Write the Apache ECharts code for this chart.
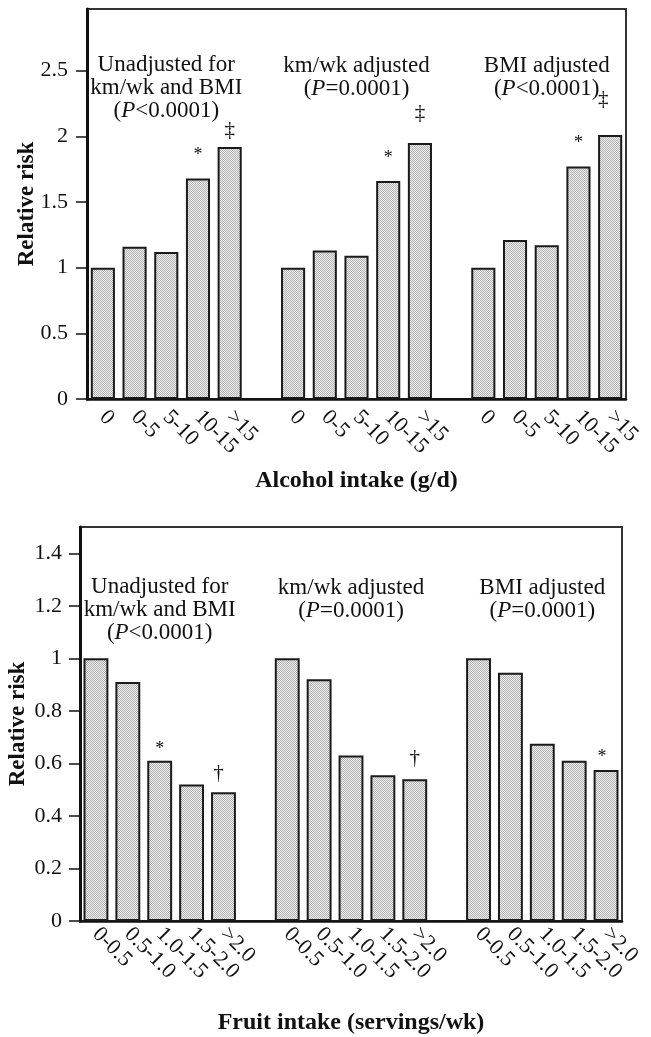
<!DOCTYPE html>
<html><head><meta charset="utf-8">
<script src="https://cdn.jsdelivr.net/npm/echarts@6/dist/echarts.min.js"></script>
<style>html,body{margin:0;padding:0;background:#fff}#c{width:651px;height:1037px}</style>
</head><body><div id="c"></div>
<script>
// ---- data ----
const alcoholCats = ['0', '0-5', '5-10', '10-15', '>15'];
const fruitCats = ['0-0.5', '0.5-1.0', '1.0-1.5', '1.5-2.0', '>2.0'];
const groupNames = ['Unadjusted for\nkm/wk and BMI', 'km/wk adjusted', 'BMI adjusted'];
const alcoholP = ['<0.0001', '=0.0001', '<0.0001'];
const fruitP = ['<0.0001', '=0.0001', '=0.0001'];
const alcoholUnadjusted = [1.00, 1.16, 1.12, 1.68, 1.92];
const alcoholKmAdjusted = [1.00, 1.13, 1.09, 1.66, 1.95];
const alcoholBmiAdjusted = [1.00, 1.21, 1.17, 1.77, 2.01];
const alcoholMarks = [['', '', '', '*', '‡'], ['', '', '', '*', '‡'], ['', '', '', '*', '‡']];
const fruitUnadjusted = [1.00, 0.91, 0.61, 0.52, 0.49];
const fruitKmAdjusted = [1.00, 0.92, 0.63, 0.555, 0.54];
const fruitBmiAdjusted = [1.00, 0.945, 0.675, 0.61, 0.575];
const fruitMarks = [['', '', '*', '', '†'], ['', '', '', '', '†'], ['', '', '', '', '*']];
const alcoholTicks = [0, 0.5, 1, 1.5, 2, 2.5];
const fruitTicks = [0, 0.2, 0.4, 0.6, 0.8, 1, 1.2, 1.4];
const alcoholTitle = 'Alcohol intake (g/d)';
const fruitTitle = 'Fruit intake (servings/wk)';
const yTitle = 'Relative risk';

// ---- styling / placement (not data) ----
const FONT = '"Liberation Serif", "Times New Roman", serif';
const INK = '#111';
const alcoholMarkShift = [[0,0,0,[0,-14],[0,-6]], [0,0,0,[0,-14],[0,-19]], [0,0,0,[0,-14],[-7,-25]]];
const fruitMarkShift = [[0,0,[0,-3],0,[-5,-8]], [0,0,0,0,[0,-10]], [0,0,0,0,[-4,-4]]];
const alcoholTitleLevel = [2.37, 2.45, 2.45];
const fruitTitleLevel = [1.185, 1.226, 1.226];

// stipple fill
const pc = document.createElement('canvas'); pc.width = 2; pc.height = 2;
const g = pc.getContext('2d');
g.fillStyle = '#eeeeee'; g.fillRect(0, 0, 2, 2);
g.fillStyle = '#b2b2b2'; g.fillRect(0, 0, 1, 1); g.fillRect(1, 1, 1, 1);
const stipple = { image: pc, repeat: 'repeat' };

function axisCats(cats) { return [...cats, '', ...cats, '', ...cats]; }
function buildBars(groups, marks, shifts) {
  const out = [];
  groups.forEach((vals, gi) => {
    if (gi > 0) out.push('-');
    vals.forEach((v, i) => {
      const m = marks[gi][i];
      const item = { value: v };
      if (m) item.label = { show: true, formatter: m, offset: shifts[gi][i], fontSize: m === '*' ? 18 : 21 };
      out.push(item);
    });
  });
  return out;
}
function buildTitles(levels, pvals) {
  return levels.map((lv, gi) => ({ value: [gi * 6 + 2, lv], name: groupNames[gi] + '\n({i|P}' + pvals[gi] + ')' }));
}

const chart = echarts.init(document.getElementById('c'), null, { renderer: 'canvas' });
const mkY = (gi, max, ticks, margin, gap) => ({
  type: 'value', gridIndex: gi, min: 0, max: max, interval: ticks[1],
  name: yTitle, nameLocation: 'middle', nameGap: gap, nameMoveOverlap: false,
  nameTextStyle: { fontSize: 23, fontWeight: 'bold', fontFamily: FONT, color: INK },
  axisLine: { show: true, lineStyle: { color: INK, width: 3 } },
  axisTick: { show: true, length: 11, lineStyle: { color: INK, width: 1.5 }, customValues: ticks },
  axisLabel: { fontSize: 22, fontFamily: FONT, color: INK, margin: margin, customValues: ticks },
  splitLine: { show: false }
});
const mkX = (gi, cats, name, gap, margin) => ({
  type: 'category', gridIndex: gi, data: axisCats(cats),
  name: name, nameLocation: 'middle', nameGap: gap, nameMoveOverlap: false,
  nameTextStyle: { fontSize: 24, fontWeight: 'bold', fontFamily: FONT, color: INK },
  axisLine: { show: true, onZero: false, lineStyle: { color: INK, width: 2.5 } },
  axisTick: { show: false },
  axisLabel: { interval: 0, rotate: -45, fontSize: 22, fontFamily: FONT, color: INK, margin: margin },
  splitLine: { show: false }
});
const barSeries = (gi, data, bw) => ({
  type: 'bar', xAxisIndex: gi, yAxisIndex: gi, data: data, barWidth: bw, silent: true,
  itemStyle: { color: stipple, borderColor: '#1a1a1a', borderWidth: 2 },
  label: { show: false, position: 'top', distance: 0, color: INK, fontFamily: FONT }
});
const titleSeries = (gi, data) => ({
  type: 'scatter', xAxisIndex: gi, yAxisIndex: gi, data: data, symbolSize: 0, silent: true,
  itemStyle: { opacity: 1 },
  label: {
    show: true, position: 'inside', formatter: p => p.name, opacity: 1,
    fontSize: 23, lineHeight: 23, fontFamily: FONT, color: INK, align: 'center',
    rich: { i: { fontStyle: 'italic', fontSize: 23, lineHeight: 23, fontFamily: FONT, color: INK } }
  }
});

chart.setOption({
  backgroundColor: '#fff',
  animation: false,
  grid: [
    { left: 87, right: 25, top: 9, height: 390, show: true, borderColor: '#333', borderWidth: 2, backgroundColor: 'transparent', containLabel: false, outerBoundsMode: 'none' },
    { left: 80, right: 29, top: 527, height: 394, show: true, borderColor: '#333', borderWidth: 2, backgroundColor: 'transparent', containLabel: false, outerBoundsMode: 'none' }
  ],
  xAxis: [mkX(0, alcoholCats, alcoholTitle, 70, 15), mkX(1, fruitCats, fruitTitle, 90, 10)],
  yAxis: [mkY(0, 2.97, alcoholTicks, 19, 48), mkY(1, 1.5, fruitTicks, 18, 50)],
  series: [
    barSeries(0, buildBars([alcoholUnadjusted, alcoholKmAdjusted, alcoholBmiAdjusted], alcoholMarks, alcoholMarkShift), '76%'),
    barSeries(1, buildBars([fruitUnadjusted, fruitKmAdjusted, fruitBmiAdjusted], fruitMarks, fruitMarkShift), '78%'),
    titleSeries(0, buildTitles(alcoholTitleLevel, alcoholP)),
    titleSeries(1, buildTitles(fruitTitleLevel, fruitP))
  ]
});
</script></body></html>
